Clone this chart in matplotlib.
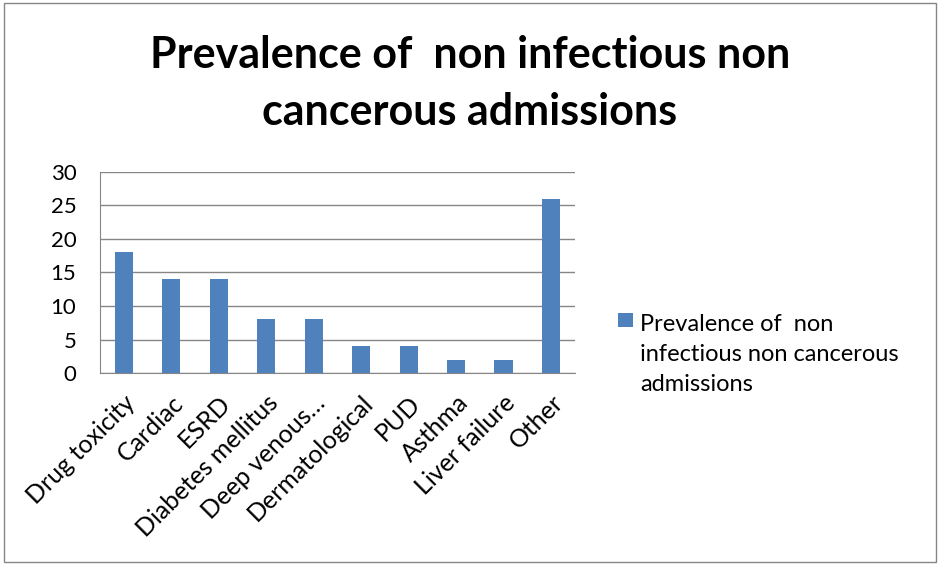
import matplotlib
matplotlib.use("Agg")
import matplotlib.pyplot as plt
from matplotlib.patches import Rectangle

categories = ["Drug toxicity", "Cardiac", "ESRD", "Diabetes mellitus", "Deep venous…",
              "Dermatological", "PUD", "Asthma", "Liver failure", "Other"]
values = [18, 14, 14, 8, 8, 4, 4, 2, 2, 26]
yticks = [0, 5, 10, 15, 20, 25, 30]
series_name = "Prevalence of  non\ninfectious non cancerous\nadmissions"
title = "Prevalence of  non infectious non\ncancerous admissions"

plt.rcParams['font.family'] = ['Lato', 'DejaVu Sans']
bar_color = "#4F81BD"
grid_color = "#868686"

fig = plt.figure(figsize=(9.4, 5.65), dpi=100)
fig.patches.append(Rectangle((0.004, 0.006), 0.992, 0.988, transform=fig.transFigure,
                             fill=False, edgecolor="#868686", linewidth=1))

ax = fig.add_axes([0.1064, 0.3398, 0.505, 0.3558])
x = list(range(len(categories)))
bars = ax.bar(x, values, width=0.38, color=bar_color, label=series_name, zorder=3)
ax.set_xlim(-0.5, len(categories) - 0.5)
ax.set_ylim(0, 30)
ax.set_yticks(yticks)
ax.set_yticklabels([str(t) for t in yticks], fontsize=16)
ax.set_xticks(x)
ax.set_xticklabels(categories, rotation=45, ha='right', rotation_mode='anchor', fontsize=18)
ax.tick_params(axis='x', length=0, pad=13)
ax.tick_params(axis='y', length=0, pad=17)
ax.yaxis.grid(True, color=grid_color, linewidth=1, zorder=0)
for s in ['top', 'right']:
    ax.spines[s].set_visible(False)
for s in ['left', 'bottom']:
    ax.spines[s].set_color(grid_color)

fig.text(0.5, 0.852, title, ha='center', va='center', fontsize=31, fontweight='bold',
         linespacing=1.5)

# legend (square aligned with first text line, as in the original)
fig.patches.append(Rectangle((0.6574, 0.4212), 0.016, 0.0248, transform=fig.transFigure,
                             facecolor=bar_color, edgecolor='none'))
fig.text(0.681, 0.308, series_name, ha='left', va='baseline', fontsize=17,
         linespacing=1.54)

fig.savefig("out.png", dpi=100)
